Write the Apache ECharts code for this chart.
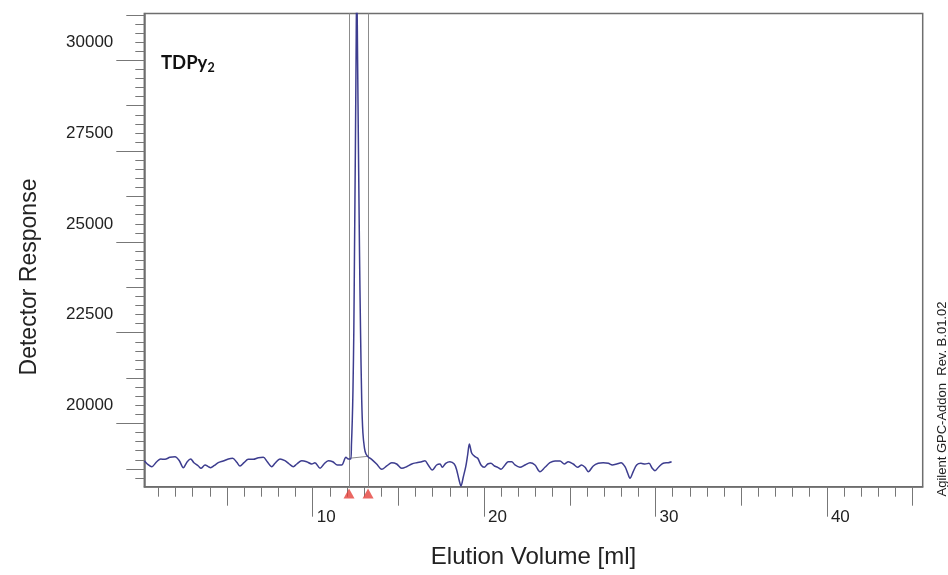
<!DOCTYPE html>
<html><head><meta charset="utf-8">
<script src="https://cdn.jsdelivr.net/npm/echarts@6/dist/echarts.min.js"></script>
<style>html,body{margin:0;padding:0;background:#fff}#c{width:948px;height:575px}</style>
</head><body><div id="c"></div>
<script>
// ---- data ----
const elutionVolume = [
  0.18,0.35,0.61,0.90,1.13,1.38,1.67,1.97,2.22,2.45,2.68,2.88,3.07,3.33,3.48,3.72,3.91,4.05,4.24,4.49,
  4.78,5.08,5.33,5.57,5.76,5.99,6.24,6.53,6.83,7.12,7.35,7.61,7.80,8.09,8.38,8.63,8.87,9.07,9.36,9.65,
  9.94,10.13,10.43,10.66,10.91,11.17,11.44,11.69,11.94,12.08,12.22,
  12.26,12.31,12.35,12.40,12.44,12.49,12.53,12.57,12.62,12.67,12.73,12.79,12.86,12.93,13.02,13.11,13.24,
  13.44,13.73,14.03,14.32,14.61,14.90,15.19,15.48,15.78,16.07,16.36,16.55,16.74,16.98,17.23,17.43,17.56,
  17.76,18.01,18.26,18.40,18.54,18.65,18.79,18.93,19.04,19.14,19.28,19.47,19.63,19.82,20.01,20.21,20.40,
  20.60,20.79,20.99,21.22,21.41,21.61,21.80,22.09,22.39,22.68,22.97,23.26,23.55,23.84,24.14,24.43,24.68,
  24.91,25.20,25.46,25.69,25.89,26.08,26.37,26.66,26.95,27.25,27.48,27.74,27.99,28.22,28.38,28.51,28.70,
  28.90,29.15,29.39,29.62,29.81,29.97,30.20,30.45,30.75,30.94
];
const detectorResponse = [
  18976,18885,18811,18948,19023,19014,19069,19086,18976,18783,18948,19023,18921,18830,18767,18858,18811,18783,18838,18921,
  18968,19023,19042,18932,18830,18921,19014,19014,19058,19069,18948,18811,18904,19023,18976,18885,18811,18885,18976,18948,
  18885,18921,18767,18885,18976,18948,18858,18858,19069,19023,19023,
  19408,20096,20922,22574,24777,27530,30008,32200,30008,27530,24777,22574,20647,19738,19325,19160,19078,
  19014,18885,18739,18830,18921,18885,18767,18811,18885,18921,18948,18976,18858,18720,18858,18885,18794,
  18904,18948,18885,18720,18445,18279,18535,18811,19133,19436,19180,19086,19042,18858,18794,18885,18904,
  18830,18794,18739,18858,18948,18948,18858,18794,18858,18921,18858,18673,18794,18921,18968,18968,18885,
  18948,18885,18794,18858,18794,18673,18830,18904,18921,18904,18858,18885,18921,18811,18629,18491,18673,
  18858,18904,18885,18904,18767,18701,18811,18904,18921,18948
];
const peakLimits = [12.12, 13.23];          // integration limits (ml)
const peakBaselineResponse = [19042, 19097]; // baseline at the limits
const xLabelTicks = [10, 20, 30, 40];
const yLabelTicks = [20000, 22500, 25000, 27500, 30000];
const sampleName = ['TDPy', '2'];
const xTitle = 'Elution Volume [ml]';
const yTitle = 'Detector Response';
const footnote = 'Agilent GPC-Addon  Rev. B.01.02';

// ---- layout ----
const X_MIN = 0.175, X_MAX = 45.59, Y_MIN = 18260, Y_MAX = 31289;
const FONT = '"Liberation Sans", Arial, sans-serif';
const xMinor = [], xMid = [5, 15, 25, 35, 45];
for (let v = 1; v <= 45; v++) xMinor.push(v);
const yMinor = [], yMid = [];
for (let v = 18500; v <= 31250; v += 250) yMinor.push(v);
for (let v = 18750; v <= 31250; v += 2500) yMid.push(v);
// the reference prints each y label about 18 px above its tick
const Y_LABEL_SHIFT = 496;

const axisColor = '#6e6e6e', tickColor = '#777';
function xAx(ticks, len, labels, line) {
  return {
    type: 'value', gridIndex: 0, position: 'bottom', min: X_MIN, max: X_MAX,
    axisLine: { show: line, onZero: false, lineStyle: { color: axisColor, width: 1.5 } },
    axisTick: { show: true, customValues: ticks, length: len, lineStyle: { color: tickColor, width: 1 } },
    axisLabel: labels ? { show: true, customValues: labels, margin: 22, align: 'left', padding: [0, 0, 0, 4],
      fontSize: 17, fontFamily: FONT, color: '#222', formatter: v => String(v) } : { show: false },
    splitLine: { show: false }
  };
}
function yAx(ticks, len, labels, line) {
  return {
    type: 'value', gridIndex: 0, position: 'left', min: Y_MIN, max: Y_MAX,
    axisLine: { show: line, onZero: false, lineStyle: { color: axisColor, width: 1.5 } },
    axisTick: { show: true, customValues: ticks, length: len, lineStyle: { color: tickColor, width: 1 } },
    axisLabel: labels ? { show: true, customValues: labels.map(v => v + Y_LABEL_SHIFT), margin: 31, align: 'right',
      verticalAlign: 'middle', fontSize: 17, fontFamily: FONT, color: '#222',
      formatter: v => String(Math.round((v - Y_LABEL_SHIFT) / 2500) * 2500) } : { show: false },
    splitLine: { show: false }
  };
}

const lineData = elutionVolume.map((x, i) => [x, detectorResponse[i]]);
const chart = echarts.init(document.getElementById('c'), null, { renderer: 'canvas' });
chart.setOption({
  animation: false,
  backgroundColor: '#fff',
  grid: { left: 144.3, right: 25.3, top: 13.5, bottom: 88.3, show: true, borderColor: axisColor, borderWidth: 1.5,
    containLabel: false, outerBoundsMode: 'none' },
  xAxis: [xAx(xMinor, 10, null, true), xAx(xMid, 19, null, false), xAx(xLabelTicks, 30, xLabelTicks, false)],
  yAxis: [yAx(yMinor, 9, null, true), yAx(yMid, 18, null, false), yAx(yLabelTicks, 28, yLabelTicks, false)],
  series: [
    {
      type: 'line', data: lineData, xAxisIndex: 0, yAxisIndex: 0, showSymbol: false, smooth: 0.3,
      lineStyle: { color: '#3d3d8f', width: 1.5 }, z: 5, clip: true,
      markLine: {
        silent: true, symbol: ['none', 'none'], label: { show: false },
        lineStyle: { color: '#8c8c8c', width: 1, type: 'solid' },
        data: [
          { xAxis: peakLimits[0] }, { xAxis: peakLimits[1] },
          [{ coord: [peakLimits[0], peakBaselineResponse[0]] }, { coord: [peakLimits[1], peakBaselineResponse[1]] }]
        ]
      }
    },
    {
      type: 'scatter', xAxisIndex: 0, yAxisIndex: 0, clip: false, silent: true, z: 10,
      symbol: 'triangle', symbolSize: [11, 10], itemStyle: { color: '#e5413b' },
      data: peakLimits.map(x => [x, Y_MIN - (Y_MAX - Y_MIN) * 0.0143])
    }
  ],
  graphic: [
    { type: 'text', x: 30, y: 277, rotation: Math.PI / 2,
      style: { text: yTitle, fontSize: 23, fontFamily: FONT, fill: '#222', align: 'center', verticalAlign: 'middle' } },
    { type: 'text', x: 533.5, y: 557,
      style: { text: xTitle, fontSize: 24, fontFamily: FONT, fill: '#222', align: 'center', verticalAlign: 'middle' } },
    { type: 'text', x: 942, y: 399, rotation: Math.PI / 2,
      style: { text: footnote, fontSize: 13, fontFamily: FONT, fill: '#222', align: 'center', verticalAlign: 'middle' } },
    { type: 'text', x: 161, y: 52,
      style: { text: '{a|' + sampleName[0] + '}{b|' + sampleName[1] + '}', fill: '#111',
        rich: {
          a: { fontSize: 18.5, fontWeight: 'bold', fontFamily: 'Lato, "Open Sans", sans-serif', lineHeight: 22, verticalAlign: 'middle' },
          b: { fontSize: 12.5, fontWeight: 'bold', fontFamily: 'Lato, "Open Sans", sans-serif', lineHeight: 14, verticalAlign: 'bottom' }
        } } }
  ]
});
</script></body></html>
